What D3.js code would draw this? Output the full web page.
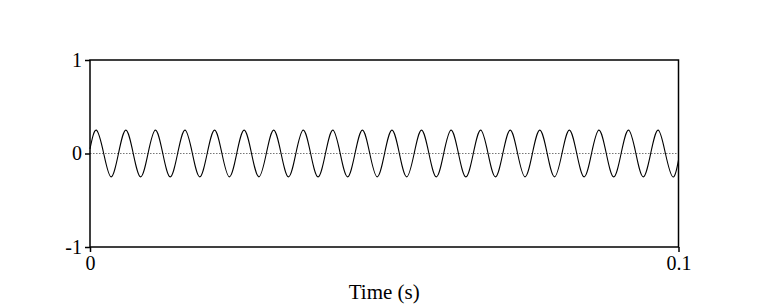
<!DOCTYPE html>
<html lang="en">
<head>
    <meta charset="UTF-8">
    <title>Time signal</title>
    <style>
        body {
            margin: 0;
            background: #fff;
        }
        .tick text {
            font-family: "Liberation Serif", "Times New Roman", serif;
            font-size: 20px;
            fill: #000;
        }
        .tick line {
            stroke: #000;
            stroke-width: 1.5px;
        }
        .frame {
            fill: none;
            stroke: #000;
            stroke-width: 1.5px;
        }
        .zero-line {
            stroke: #777;
            stroke-width: 1px;
            stroke-dasharray: 1.5 1.5;
        }
        .wave {
            fill: none;
            stroke: #000;
            stroke-width: 1.1px;
        }
        .axis-label {
            font-family: "Liberation Serif", "Times New Roman", serif;
            font-size: 21px;
            text-anchor: middle;
        }
    </style>
</head>
<body>
    <svg id="chart" width="768" height="307"></svg>

    <script src="https://d3js.org/d3.v7.min.js"></script>
    <script>
        // signal: start, quarter-period points (peak, zero, trough, zero ...), end
        const waveTimes = [
            0,
            0.00107, 0.00233, 0.00358, 0.00484, 0.00609, 0.00735, 0.00861, 0.00986,
            0.01112, 0.01237, 0.01363, 0.01489, 0.01614, 0.01740, 0.01865, 0.01991,
            0.02117, 0.02242, 0.02368, 0.02493, 0.02619, 0.02745, 0.02870, 0.02996,
            0.03121, 0.03247, 0.03373, 0.03498, 0.03624, 0.03749, 0.03875, 0.04001,
            0.04126, 0.04252, 0.04377, 0.04503, 0.04629, 0.04754, 0.04880, 0.05005,
            0.05131, 0.05257, 0.05382, 0.05508, 0.05633, 0.05759, 0.05885, 0.06010,
            0.06136, 0.06261, 0.06387, 0.06513, 0.06638, 0.06764, 0.06889, 0.07015,
            0.07141, 0.07266, 0.07392, 0.07517, 0.07643, 0.07769, 0.07894, 0.08020,
            0.08145, 0.08271, 0.08397, 0.08522, 0.08648, 0.08773, 0.08899, 0.09025,
            0.09150, 0.09276, 0.09401, 0.09527, 0.09653, 0.09778, 0.09904,
            0.1
        ];
        const waveValues = [
            0.05,
            0.25, 0, -0.25, 0, 0.25, 0, -0.25, 0,
            0.25, 0, -0.25, 0, 0.25, 0, -0.25, 0,
            0.25, 0, -0.25, 0, 0.25, 0, -0.25, 0,
            0.25, 0, -0.25, 0, 0.25, 0, -0.25, 0,
            0.25, 0, -0.25, 0, 0.25, 0, -0.25, 0,
            0.25, 0, -0.25, 0, 0.25, 0, -0.25, 0,
            0.25, 0, -0.25, 0, 0.25, 0, -0.25, 0,
            0.25, 0, -0.25, 0, 0.25, 0, -0.25, 0,
            0.25, 0, -0.25, 0, 0.25, 0, -0.25, 0,
            0.25, 0, -0.25, 0, 0.25, 0, -0.25,
            -0.07
        ];

        const xTicks = [0, 0.1];
        const xTickLabels = ['0', '0.1'];
        const yTicks = [-1, 0, 1];
        const yTickLabels = ['-1', '0', '1'];

        const margin = { top: 60, right: 90, bottom: 60, left: 90 };
        const width = 768;
        const height = 307;

        const svg = d3.select('#chart');

        const x = d3.scaleLinear()
            .domain([0, 0.1])
            .range([margin.left, width - margin.right + 0.5]);

        const y = d3.scaleLinear()
            .domain([-1, 1])
            .range([247, margin.top]);

        // dotted zero reference
        svg.append('line')
            .attr('class', 'zero-line')
            .attr('x1', x(0))
            .attr('x2', x(0.1))
            .attr('y1', y(0))
            .attr('y2', y(0));

        const points = waveTimes.map((t, i) => ({ t: t, v: waveValues[i] }));

        const line = d3.line()
            .x(d => x(d.t))
            .y(d => y(d.v))
            .curve(d3.curveNatural);

        svg.append('path')
            .datum(points)
            .attr('class', 'wave')
            .attr('d', line);

        const xAxis = svg.append('g')
            .attr('transform', `translate(0,${y(-1)})`)
            .call(d3.axisBottom(x)
                .tickValues(xTicks)
                .tickSize(5)
                .tickPadding(4)
                .tickFormat((d, i) => xTickLabels[i]));

        const yAxis = svg.append('g')
            .attr('transform', `translate(${x(0)},0)`)
            .call(d3.axisLeft(y)
                .tickValues(yTicks)
                .tickSize(5)
                .tickPadding(3)
                .tickFormat((d, i) => yTickLabels[i]));

        xAxis.select('.domain').remove();
        yAxis.select('.domain').remove();

        svg.append('rect')
            .attr('class', 'frame')
            .attr('x', x(0))
            .attr('y', y(1))
            .attr('width', x(0.1) - x(0))
            .attr('height', y(-1) - y(1));

        svg.append('text')
            .attr('class', 'axis-label')
            .attr('x', (x(0) + x(0.1)) / 2)
            .attr('y', 299)
            .text('Time (s)');
    </script>
</body>
</html>
